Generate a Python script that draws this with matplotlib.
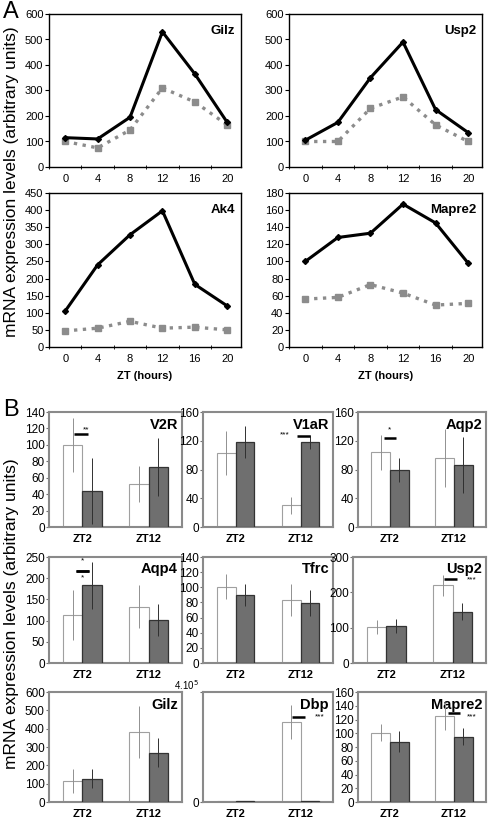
# mRNA expression figure: panel A time courses, panel B bar charts
import numpy as np
import matplotlib.pyplot as plt

plt.rcParams['font.family'] = ['Liberation Sans', 'DejaVu Sans']

W, H = 488, 822
fig = plt.figure(figsize=[W / 100, H / 100], dpi=100)

# ---- panel A data ----
zt = [0, 4, 8, 12, 16, 20]
gilz_black = [115, 110, 195, 530, 365, 175]
gilz_grey = [100, 75, 145, 310, 255, 165]
usp2_black = [105, 175, 350, 490, 225, 135]
usp2_grey = [100, 100, 230, 275, 165, 100]
ak4_black = [105, 240, 328, 398, 183, 120]
ak4_grey = [47, 55, 75, 55, 58, 50]
mapre2_black = [100, 128, 133, 167, 145, 98]
mapre2_grey = [56, 58, 73, 63, 49, 51]

# ---- panel B data (white bar, grey bar) at ZT2, ZT12 ----
groups = ["ZT2", "ZT12"]
v2r_white, v2r_white_err = [100, 52], [33, 22]
v2r_grey, v2r_grey_err = [44, 73], [40, 35]
v1ar_white, v1ar_white_err = [103, 30], [30, 12]
v1ar_grey, v1ar_grey_err = [118, 118], [22, 10]
aqp2_white, aqp2_white_err = [104, 96], [24, 41]
aqp2_grey, aqp2_grey_err = [79, 86], [17, 39]
aqp4_white, aqp4_white_err = [113, 133], [59, 50]
aqp4_grey, aqp4_grey_err = [183, 102], [55, 38]
tfrc_white, tfrc_white_err = [101, 83], [17, 21]
tfrc_grey, tfrc_grey_err = [90, 79], [15, 17]
usp2b_white, usp2b_white_err = [101, 220], [20, 30]
usp2b_grey, usp2b_grey_err = [105, 145], [19, 24]
gilzb_white, gilzb_white_err = [113, 380], [66, 142]
gilzb_grey, gilzb_grey_err = [128, 269], [53, 80]
dbp_white, dbp_white_err = [2000, 290000], [0, 61000]
dbp_grey, dbp_grey_err = [2000, 3000], [0, 0]
mapre2b_white, mapre2b_white_err = [101, 125], [12, 20]
mapre2b_grey, mapre2b_grey_err = [88, 95], [15, 12]


def px_axes(l, t, r, b):
    return fig.add_axes([l / W, 1 - b / H, (r - l) / W, (b - t) / H])


def line_panel(box, black, grey, name, ymax, ystep, xlabel=False):
    ax = px_axes(*box)
    ax.plot(zt, black, '-D', color='black', lw=2.2, ms=3, zorder=3)
    ax.plot(zt, grey, ':s', color='#8c8c8c', lw=2.4, ms=4, zorder=2)
    ax.set_xlim(-2, 21.7)
    ax.set_ylim(0, ymax)
    ax.set_yticks(np.arange(0, ymax + 1, ystep))
    ax.set_xticks(zt)
    ax.set_xticks(np.arange(-2, 22, 4), minor=True)
    ax.tick_params(axis='x', which='major', length=0, labelsize=8, pad=5)
    ax.tick_params(axis='x', which='minor', length=3, direction='inout')
    ax.tick_params(axis='y', length=3, labelsize=8, pad=1)
    for s in ax.spines.values():
        s.set_linewidth(1.0)
    ax.text(0.97, 0.93, name, transform=ax.transAxes, ha='right', va='top',
            fontsize=9.5, fontweight='bold')
    if xlabel:
        ax.set_xlabel("ZT (hours)", fontsize=8, fontweight='bold', labelpad=5)
    return ax


line_panel((49, 14, 241, 167), gilz_black, gilz_grey, "Gilz", 600, 100)
line_panel((289, 14, 482, 167), usp2_black, usp2_grey, "Usp2", 600, 100)
line_panel((49, 193, 241, 347), ak4_black, ak4_grey, "Ak4", 450, 50, True)
line_panel((289, 193, 482, 347), mapre2_black, mapre2_grey, "Mapre2", 180, 20, True)


def bar_panel(box, white, werr, grey, gerr, name, ymax, yticks, sig=None,
              ticklabels=None):
    ax = px_axes(*box)
    x = np.arange(len(groups))
    w = 0.29
    ax.bar(x - w / 2, white, w, color='white', edgecolor='#a0a0a0', lw=0.8, zorder=2)
    ax.bar(x + w / 2, grey, w, color='#6f6f6f', edgecolor='#333333', lw=0.9, zorder=3)
    ax.errorbar(x - w / 2, white, yerr=werr, fmt='none', ecolor='#909090',
                elinewidth=0.7, capsize=0, zorder=4)
    ax.errorbar(x + w / 2, grey, yerr=gerr, fmt='none', ecolor='#303030',
                elinewidth=0.7, capsize=0, zorder=4)
    ax.set_xlim(-0.5, 1.5)
    ax.set_ylim(0, ymax)
    ax.set_yticks(yticks)
    if ticklabels is not None:
        ax.set_yticklabels(ticklabels)
    ax.set_xticks(x)
    ax.set_xticklabels(groups, fontsize=8, fontweight='bold')
    ax.tick_params(axis='x', length=0, pad=5)
    ax.tick_params(axis='y', length=2.5, labelsize=8.5, pad=0.5, color='#707070')
    for s in ax.spines.values():
        s.set_linewidth(1.5)
        s.set_color('#8a8a8a')
    ax.text(0.97, 0.95, name, transform=ax.transAxes, ha='right', va='top',
            fontsize=10.5, fontweight='bold')
    if sig:
        for xc, yline, label, dx, dy in sig:
            ax.plot([xc - 0.1, xc + 0.1], [yline, yline], color='black', lw=1.8,
                    solid_capstyle='butt', zorder=5)
            ax.text(xc + dx, yline + dy * ymax, label, ha='center', va='center',
                    fontsize=6)
    return ax


bar_panel((49, 412, 182, 527), v2r_white, v2r_white_err, v2r_grey, v2r_grey_err,
          "V2R", 140, range(0, 141, 20), sig=[(-0.02, 113, "**", 0.08, 0.04)])
bar_panel((203, 412, 333, 527), v1ar_white, v1ar_white_err, v1ar_grey, v1ar_grey_err,
          "V1aR", 160, [0, 40, 80, 120, 160], sig=[(1.05, 127, "***", -0.3, 0.01)])
bar_panel((358, 412, 486, 527), aqp2_white, aqp2_white_err, aqp2_grey, aqp2_grey_err,
          "Aqp2", 160, [0, 40, 80, 120, 160], sig=[(0.0, 124, "*", 0.0, 0.07)])
bar_panel((49, 557, 182, 663), aqp4_white, aqp4_white_err, aqp4_grey, aqp4_grey_err,
          "Aqp4", 250, range(0, 251, 50), sig=[(0.0, 218, "*", 0.0, 0.09),
                                                  (0.0, 218, "*", 0.0, -0.07)])
bar_panel((203, 557, 333, 663), tfrc_white, tfrc_white_err, tfrc_grey, tfrc_grey_err,
          "Tfrc", 140, range(0, 141, 20))
bar_panel((353, 557, 486, 663), usp2b_white, usp2b_white_err, usp2b_grey, usp2b_grey_err,
          "Usp2", 300, [0, 100, 200, 300], sig=[(0.97, 237, "***", 0.32, -0.01)])
bar_panel((49, 692, 182, 802), gilzb_white, gilzb_white_err, gilzb_grey, gilzb_grey_err,
          "Gilz", 600, range(0, 601, 100))
dbp_ax = bar_panel((203, 692, 333, 802), dbp_white, dbp_white_err, dbp_grey,
                   dbp_grey_err, "Dbp", 400000, [0, 400000],
                   ticklabels=["0", "4.10$^5$"],
                   sig=[(0.97, 310000, "***", 0.33, -0.005)])
top_label = dbp_ax.get_yticklabels()[-1]
top_label.set_fontsize(7)
top_label.set_verticalalignment('bottom')
bar_panel((358, 692, 486, 802), mapre2b_white, mapre2b_white_err, mapre2b_grey,
          mapre2b_grey_err, "Mapre2", 160, range(0, 161, 20),
          sig=[(1.0, 130, "***", 0.27, -0.04)])

# panel letters and shared y labels
fig.text(3 / W, 1 - 12 / H, "A", fontsize=17, va='center', ha='left')
fig.text(3 / W, 1 - 410 / H, "B", fontsize=17, va='center', ha='left')
fig.text(12 / W, 1 - 182 / H, "mRNA expression levels (arbitrary units)",
         rotation=90, fontsize=12.5, ha='center', va='center')
fig.text(12 / W, 1 - 614 / H, "mRNA expression levels (arbitrary units)",
         rotation=90, fontsize=12.5, ha='center', va='center')

plt.savefig("out.png", dpi=100)
